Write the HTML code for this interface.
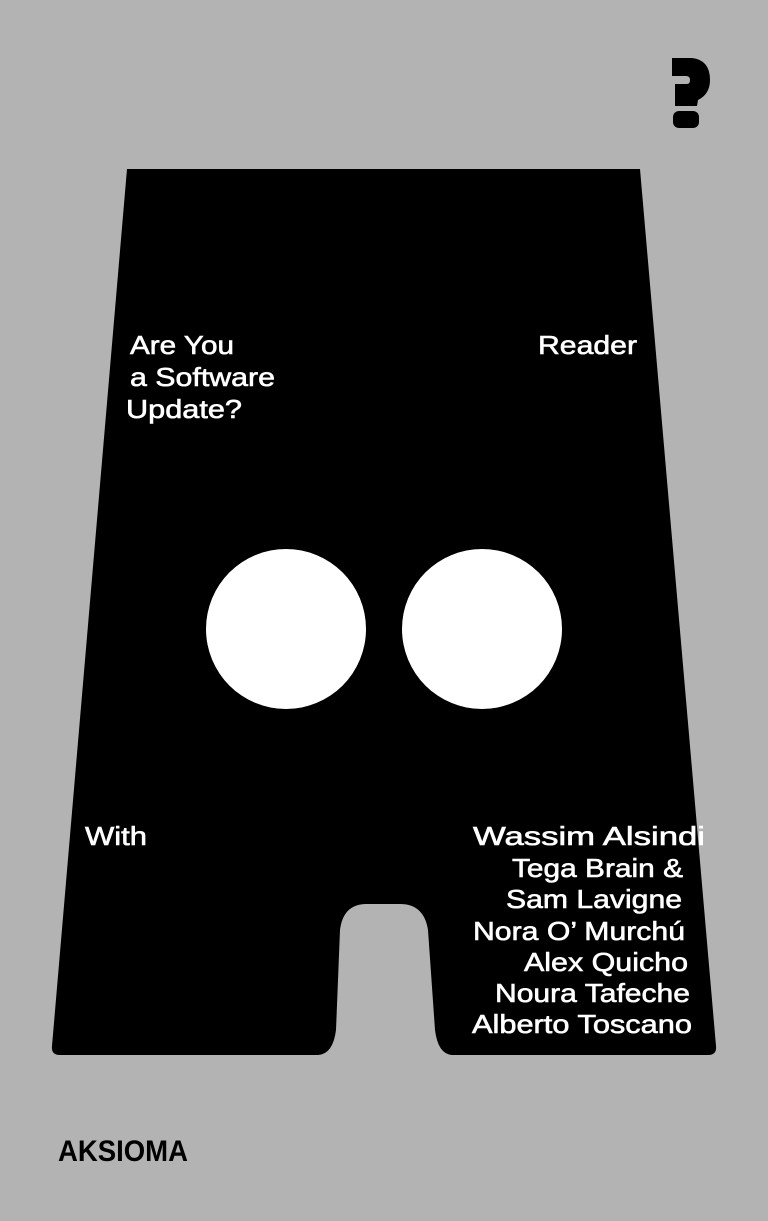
<!DOCTYPE html>
<html><head><meta charset="utf-8"><style>
html,body{margin:0;padding:0;background:#b3b3b3;}
svg{display:block}
text{font-family:"Liberation Sans",sans-serif;fill:#fff;font-size:26px;stroke:#fff;stroke-width:0.6px;}
</style></head><body>
<svg width="768" height="1221" viewBox="0 0 768 1221" xmlns="http://www.w3.org/2000/svg">
<rect width="768" height="1221" fill="#b3b3b3"/>
<path d="M127,169 L640,169 L716,1046 Q717,1055 708,1055 L452,1055 Q438,1054 435,1030 L428,930 Q424,904 400,904 L365,904 Q343,905 340,930 L336,1030 Q333,1054 318,1055 L60,1055 Q51,1055 52,1046 Z" fill="#000"/>
<circle cx="286" cy="629" r="80" fill="#fff"/>
<circle cx="482" cy="629" r="80" fill="#fff"/>
<text x="130" y="354" textLength="104" lengthAdjust="spacingAndGlyphs">Are You</text>
<text x="130" y="386" textLength="145" lengthAdjust="spacingAndGlyphs">a Software</text>
<text x="126" y="418" textLength="116" lengthAdjust="spacingAndGlyphs">Update?</text>
<text x="538" y="354" textLength="99" lengthAdjust="spacingAndGlyphs">Reader</text>
<text x="85" y="845" textLength="62" lengthAdjust="spacingAndGlyphs">With</text>
<text x="473" y="845" textLength="232" lengthAdjust="spacingAndGlyphs">Wassim Alsindi</text>
<text x="512" y="877" textLength="171" lengthAdjust="spacingAndGlyphs">Tega Brain &amp;</text>
<text x="506" y="908" textLength="176" lengthAdjust="spacingAndGlyphs">Sam Lavigne</text>
<text x="473" y="940" textLength="212" lengthAdjust="spacingAndGlyphs">Nora O’ Murchú</text>
<text x="524" y="971" textLength="164" lengthAdjust="spacingAndGlyphs">Alex Quicho</text>
<text x="495" y="1002" textLength="195" lengthAdjust="spacingAndGlyphs">Noura Tafeche</text>
<text x="472" y="1033" textLength="220" lengthAdjust="spacingAndGlyphs">Alberto Toscano</text>
<text x="58" y="1161" style="fill:#000;stroke:none;font-weight:bold;font-size:30px" textLength="130" lengthAdjust="spacingAndGlyphs">AKSIOMA</text>
<path d="M672,58 L692,58 Q710,60 710,80 Q710,94 698,100 L697,106 L675,106 L675,84 L687,84 Q690,84 690,80 Q690,76 686,76 L672,76 Z" fill="#000"/>
<rect x="673" y="111" width="26" height="17" rx="6" fill="#000"/>
</svg>
</body></html>
